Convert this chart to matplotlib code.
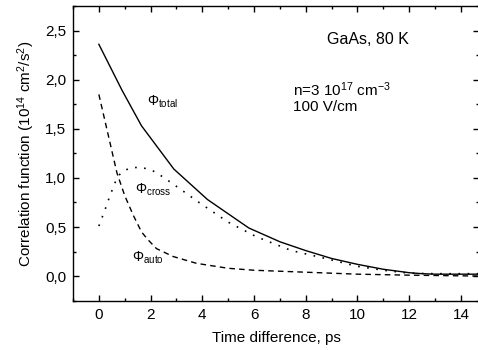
import numpy as np
import matplotlib.pyplot as plt
from matplotlib.ticker import MultipleLocator, FuncFormatter

plt.rcParams['font.family'] = ['Liberation Sans', 'DejaVu Sans']
plt.rcParams['mathtext.fontset'] = 'custom'
plt.rcParams['mathtext.rm'] = 'Liberation Sans'
plt.rcParams['mathtext.it'] = 'Liberation Sans'
plt.rcParams['mathtext.bf'] = 'Liberation Sans:bold'

# total correlation function
t_total = [0, 0.9, 1.65, 2.9, 4.2, 5.8, 7, 8, 9, 10, 11, 12, 12.5, 13, 14, 15]
phi_total = [2.36, 1.89, 1.53, 1.09, 0.78, 0.49, 0.35, 0.26, 0.18, 0.12, 0.07,
             0.035, 0.025, 0.02, 0.02, 0.02]

# auto part
t_auto = [0, 0.7, 1.0, 1.33, 1.65, 1.9, 2.23, 2.87, 3.78, 5, 6, 8, 10, 12, 15]
phi_auto = [1.85, 1.05, 0.82, 0.62, 0.45, 0.37, 0.28, 0.20, 0.13, 0.08, 0.06,
            0.04, 0.02, 0.01, 0.0]

# cross part
t_cross = [0, 0.23, 0.43, 0.7, 0.88, 1.2, 1.6, 2.04, 2.36, 2.75, 3.13, 3.5, 3.9,
           5.0, 6.1, 7.45, 8.6, 10, 11, 12, 13, 15]
phi_cross = [0.51, 0.67, 0.82, 1.0, 1.06, 1.10, 1.11, 1.08, 1.03, 0.96, 0.89, 0.82,
             0.745, 0.55, 0.40, 0.26, 0.19, 0.10, 0.06, 0.03, 0.025, 0.025]

fig = plt.figure(figsize=(4.78, 3.5), dpi=100)
ax = fig.add_axes([73/478, 1 - 300.7/350, (479 - 73)/478, (300.7 - 6)/350])

ax.plot(t_total, phi_total, color='black', lw=1.0)
ax.plot(t_auto, phi_auto, color='black', lw=1.0, linestyle=(0, (4, 3)))
ax.plot(t_cross, phi_cross, color='black', lw=1.2, linestyle=(0, (1, 4.5)))

ax.set_xlim(-1, 14.7)
ax.set_ylim(-0.25, 2.75)

ax.xaxis.set_major_locator(MultipleLocator(2))
ax.xaxis.set_minor_locator(MultipleLocator(1))
ax.yaxis.set_major_locator(MultipleLocator(0.5))
ax.yaxis.set_minor_locator(MultipleLocator(0.25))
ax.yaxis.set_major_formatter(FuncFormatter(lambda v, p: f'{v:.1f}'.replace('.', ',')))

ax.tick_params(which='both', direction='in', top=True, right=True, labelsize=11)
ax.tick_params(which='major', length=4.5, width=1, pad=5)
ax.tick_params(which='minor', length=2.5, width=1)
for s in ax.spines.values():
    s.set_linewidth(1.0)

ax.set_xlabel('Time difference, ps', fontsize=11, labelpad=7)
ax.set_ylabel(r'Correlation function (10$^{14}$ cm$^{2}$/s$^{2}$)', fontsize=11, labelpad=6)

ax.text(1.86, 1.77, r'$\Phi_{\mathrm{total}}$', fontsize=10, va='center')
ax.text(1.39, 0.88, r'$\Phi_{\mathrm{cross}}$', fontsize=10, va='center')
ax.text(1.27, 0.19, r'$\Phi_{\mathrm{auto}}$', fontsize=10, va='center')

ax.text(10.42, 2.41, 'GaAs, 80 K', fontsize=11.5, ha='center', va='center')
ax.text(7.52, 1.90, r'n=3 10$^{17}$ cm$^{-3}$', fontsize=11, ha='left', va='center')
ax.text(7.52, 1.72, '100 V/cm', fontsize=11, ha='left', va='center')

fig.savefig('out.png', dpi=100)
